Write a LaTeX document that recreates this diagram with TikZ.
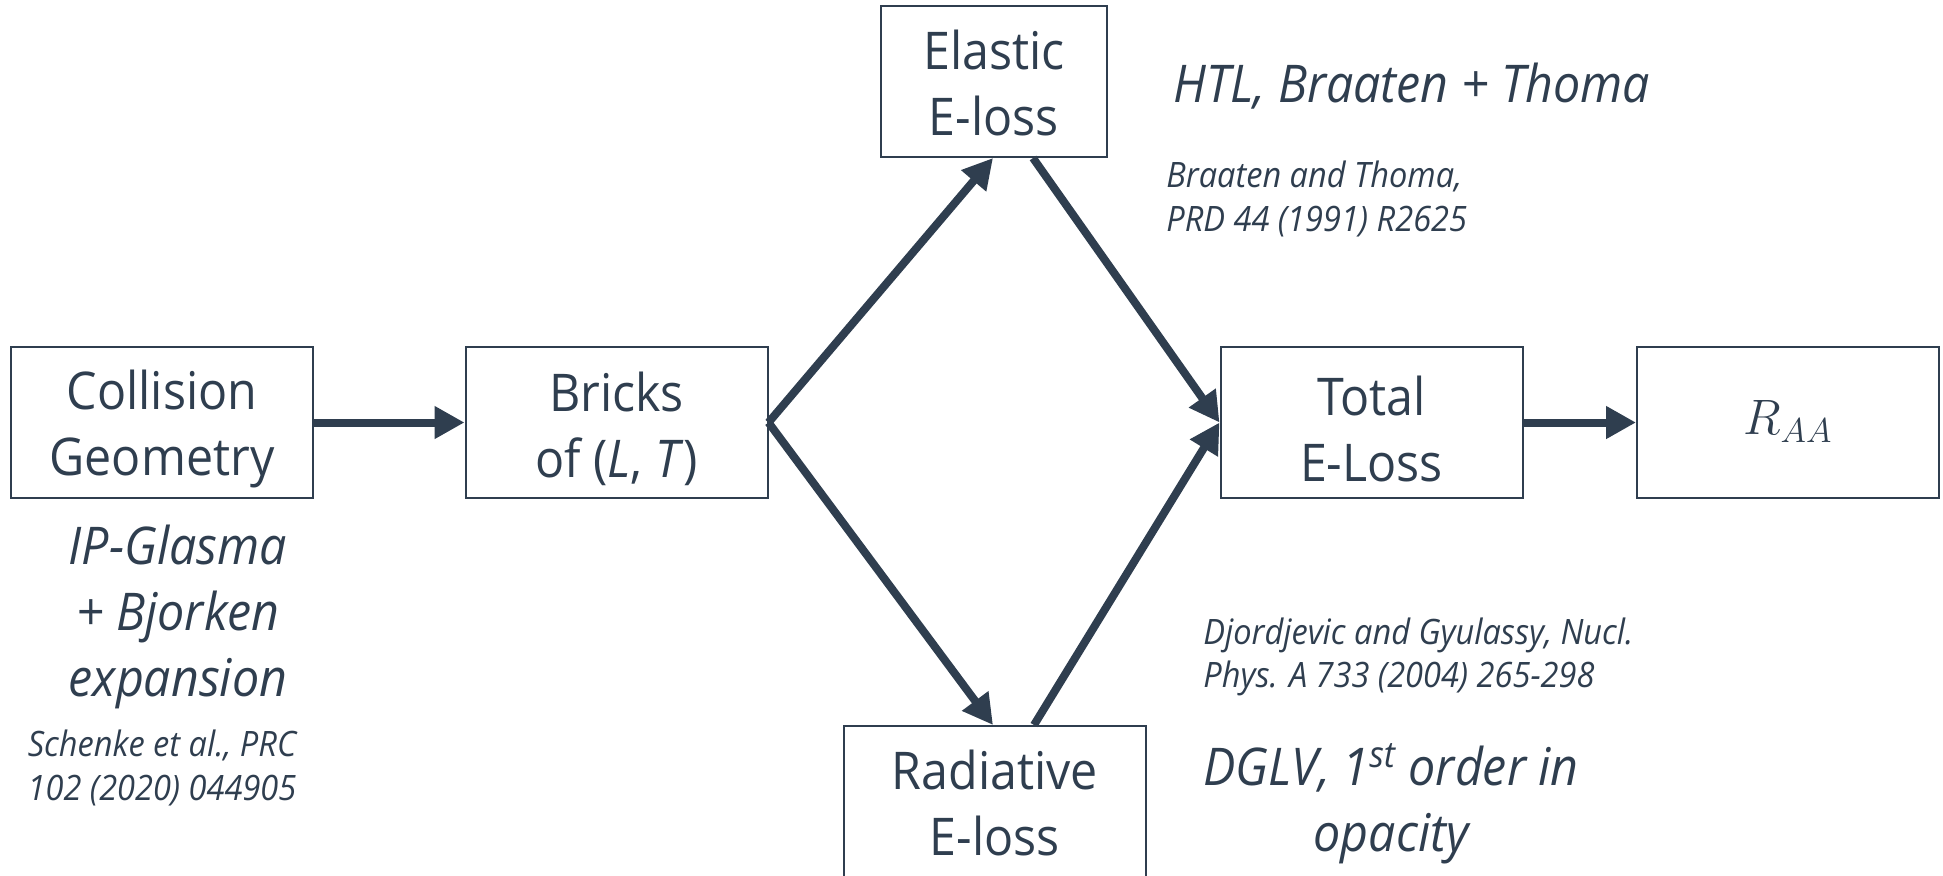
\documentclass[tikz,border=0pt]{standalone}
\usepackage{fontspec}
\setmainfont{Open Sans}[FakeStretch=0.93]
\usetikzlibrary{arrows.meta,calc}
\definecolor{ink}{HTML}{2F3E4F}
\tikzset{
  box/.style={draw=ink, line width=1pt, minimum width=151pt, minimum height=75.5pt, inner sep=0pt},
  boxtext/.style={align=center, text=ink, font=\fontsize{26}{33}\selectfont, inner sep=0pt},
  flow/.style={draw=ink, line width=4pt, -{Triangle[length=15pt,width=15.5pt]}},
  bignote/.style={text=ink, font=\fontsize{26}{33}\selectfont\itshape, align=center, inner sep=0pt},
  smallnote/.style={text=ink, font=\fontsize{17.5}{21.7}\selectfont\itshape, inner sep=0pt},
}
\begin{document}
\begin{tikzpicture}[x=0.5pt,y=-0.5pt]
\useasboundingbox (0,0) rectangle (1943,875);
\node[box] (col) at (162,422.5) {};
\node[box] (bricks) at (616.5,422.5) {};
\node[box, minimum width=113pt] (elastic) at (994,81.5) {};
\node[box] (total) at (1371.5,422.5) {};
\node[box] (raa) at (1788,422.5) {};
\node[box] (rad) at (995,801.5) {};

\node[boxtext] (colt) at ($(col.center)+(0,6)$) {Collision\\Geometry};
\node[boxtext] (brickst) at ($(bricks.center)+(0,6)$) {Bricks\\of (\textit{L}, \textit{T})};
\node[boxtext] (elastict) at ($(elastic.center)+(0,1)$) {Elastic\\E-loss};
\node[boxtext] (totalt) at ($(total.center)+(0,6)$) {Total\\E-Loss};
\node[boxtext] (raat) at ($(raa.center)+(0,-1)$) {\fontsize{24}{28}\selectfont$R_{AA}$};
\node[boxtext] (radt) at ($(rad.center)+(0,1)$) {Radiative\\E-loss};

\coordinate (eout) at ($(elastic.south)+(39,0)$);
\coordinate (rout) at ($(rad.north)+(39,0)$);
\coordinate (ein) at ($(elastic.south)+(-1,0)$);
\coordinate (rin) at ($(rad.north)+(-2,0)$);

\draw[flow] (col.east) -- (bricks.west);
\draw[flow] (bricks.east) -- (ein);
\draw[flow] (bricks.east) -- (rin);
\draw[flow] (eout) -- (total.west);
\draw[flow] (rout) -- (total.west);
\draw[flow] (total.east) -- (raa.west);

\node[bignote] (ipg) at (178,617) {IP-Glasma\\+ Bjorken\\expansion};
\node[smallnote, align=center] (sch) at (162,768) {Schenke et al., PRC\\102 (2020) 044905};
\node[bignote, anchor=west] (htl) at (1173,86) {HTL, Braaten + Thoma};
\node[smallnote, align=left, anchor=west] (bt) at (1166,199) {Braaten and Thoma,\\PRD 44 (1991) R2625};
\node[smallnote, align=left, anchor=west] (dg) at (1203,657) {Djordjevic and Gyulassy, Nucl.\\Phys. A 733 (2004) 265-298};
\node[bignote] (dglv) at (1391,804) {DGLV, 1\textsuperscript{st} order in\\opacity};
\end{tikzpicture}
\end{document}
